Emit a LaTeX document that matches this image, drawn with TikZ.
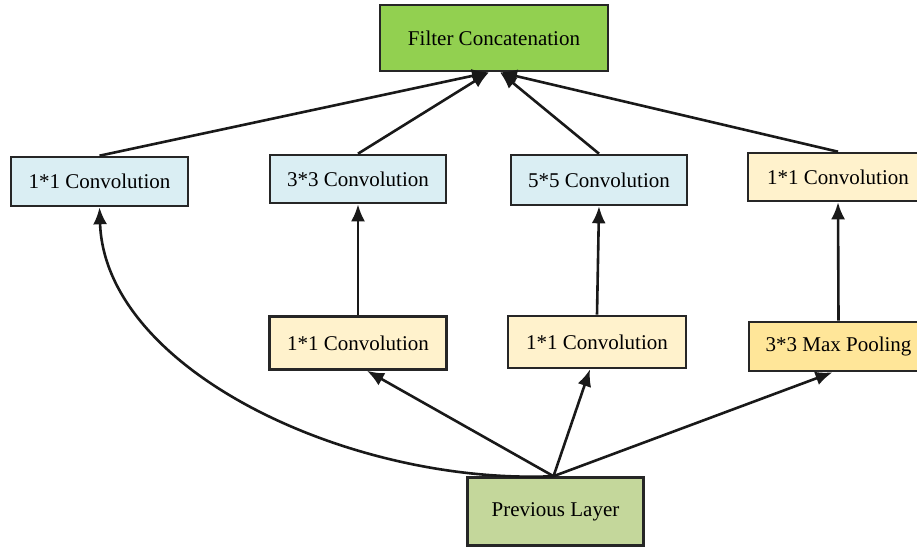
\documentclass[tikz,border=0pt]{standalone}
\usepackage{fontspec}
\setmainfont{Liberation Serif}
\newfontfamily\tnrfont{Liberation Serif}
\usetikzlibrary{arrows.meta,shadows}
\definecolor{fcgreen}{HTML}{92D050}
\definecolor{convblue}{HTML}{DAEEF3}
\definecolor{convyellow}{HTML}{FFF2CC}
\definecolor{poolyellow}{HTML}{FFE699}
\definecolor{prevgreen}{HTML}{C4D79B}
\tikzset{
  boxnode/.style={rectangle, draw=black!85, line width=2.6pt, inner sep=0pt,
    font=\tnrfont\fontsize{21}{25}\selectfont, text=black,
    drop shadow={shadow xshift=1pt, shadow yshift=-1pt, opacity=0.35, fill=black}},
  conn/.style={line width=2.6pt, draw=black!90, -{Latex[length=17pt,width=14pt]}}
}
\begin{document}
\begin{tikzpicture}[x=1pt,y=-1pt]
\useasboundingbox (0,0) rectangle (917,552);
\clip (0,0) rectangle (917,552);
\fill[white] (0,0) rectangle (917,552);

\node[boxnode, fill=fcgreen, minimum width=228pt, minimum height=66pt] (fc) at (494,38) {Filter Concatenation};

\node[boxnode, fill=convblue, minimum width=177pt, minimum height=49pt] (c1) at (99.5,181.5) {1*1 Convolution};
\node[boxnode, fill=convblue, minimum width=176pt, minimum height=48pt] (c3) at (358,179) {3*3 Convolution};
\node[boxnode, fill=convblue, minimum width=176pt, minimum height=50pt] (c5) at (599,180) {5*5 Convolution};
\node[boxnode, fill=convyellow, minimum width=180pt, minimum height=48pt] (c1r) at (838,177) {1*1 Convolution};

\node[boxnode, fill=convyellow, minimum width=177pt, minimum height=53pt] (r3) at (358,343) {1*1 Convolution};
\node[boxnode, fill=convyellow, minimum width=178pt, minimum height=52pt] (r5) at (597,342) {1*1 Convolution};
\node[boxnode, fill=poolyellow, minimum width=179pt, minimum height=49pt] (mp) at (838.5,346.5) {3*3 Max Pooling};

\node[boxnode, fill=prevgreen, minimum width=176pt, minimum height=68pt] (prev) at (555.5,511.5) {Previous Layer};

% to filter concatenation
\draw[conn] (c1.north) -- ([xshift=-5pt]fc.south);
\draw[conn] (c3.north) -- ([xshift=-5pt]fc.south);
\draw[conn] (c5.north) -- ([xshift=6pt]fc.south);
\draw[conn] (c1r.north) -- ([xshift=6pt]fc.south);

% middle level
\draw[conn] (r3.north) -- (c3.south);
\draw[conn] (r5.north) -- (c5.south);
\draw[conn] (mp.north) -- (c1r.south);

% from previous layer
\draw[conn] ([xshift=-2pt]prev.north) .. controls (350,485) and (105,370) .. (c1.south);
\draw[conn] ([xshift=-2pt]prev.north) -- ([xshift=9pt]r3.south);
\draw[conn] ([xshift=-2pt]prev.north) -- ([xshift=-7pt]r5.south);
\draw[conn] ([xshift=-2pt]prev.north) -- ([xshift=-6pt]mp.south);
\end{tikzpicture}
\end{document}
